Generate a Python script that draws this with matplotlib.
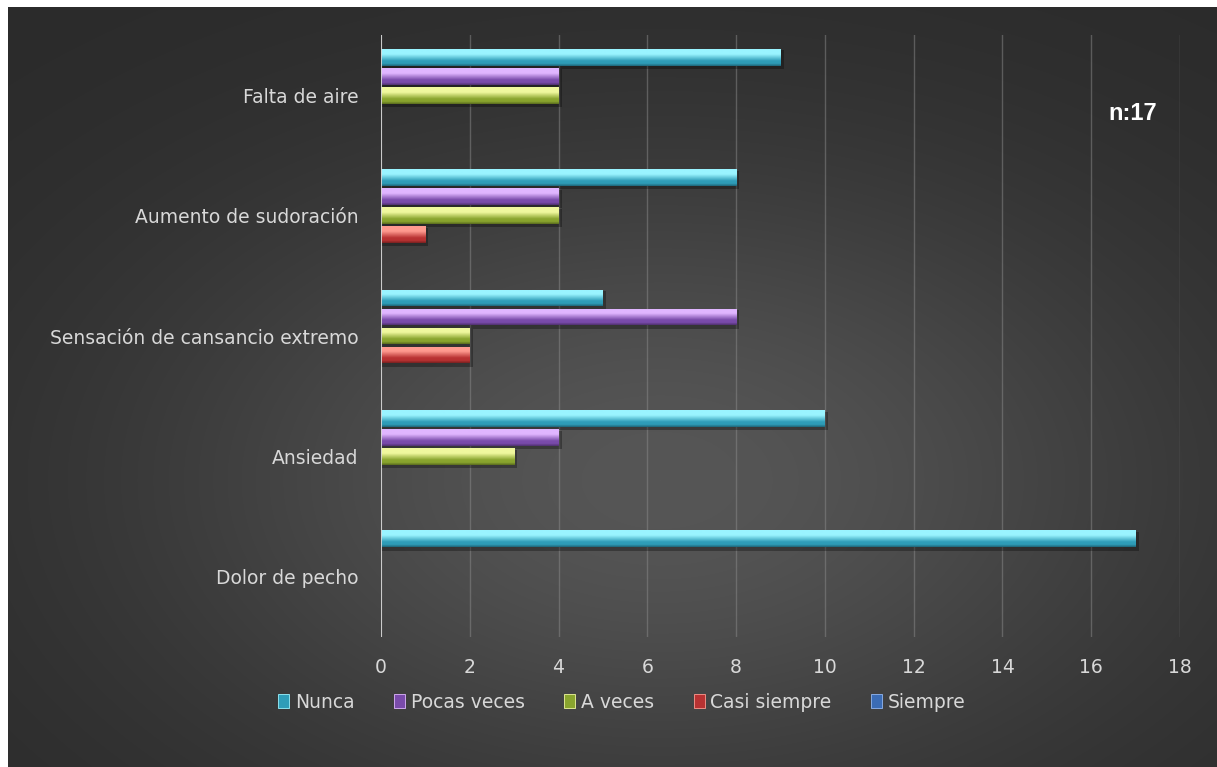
import numpy as np
import matplotlib
matplotlib.use("Agg")
import matplotlib.pyplot as plt
from matplotlib.colors import to_rgb
from matplotlib.patches import Patch, Rectangle

# ---- data -------------------------------------------------------------
categories = ["Dolor de pecho", "Ansiedad", "Sensación de cansancio extremo",
              "Aumento de sudoración", "Falta de aire"]
series = ["Nunca", "Pocas veces", "A veces", "Casi siempre", "Siempre"]
nunca = [17, 10, 5, 8, 9]
pocas_veces = [0, 4, 8, 4, 4]
a_veces = [0, 3, 2, 4, 4]
casi_siempre = [0, 0, 2, 1, 0]
siempre = [0, 0, 0, 0, 0]
x_ticks = [0, 2, 4, 6, 8, 10, 12, 14, 16, 18]
sample_note = "n:17"

values = [nunca, pocas_veces, a_veces, casi_siempre, siempre]

# light (top) / dark (bottom) shade for each series
shades = [("#9af4ff", "#2f9db8"),
          ("#e0b6ff", "#7a4bab"),
          ("#f0f89e", "#8aa52e"),
          ("#ff9a8f", "#b83232"),
          ("#93b8f2", "#3b6cb5")]

W, H, DPI = 1217, 767, 100
fig = plt.figure(figsize=(W / DPI, H / DPI), dpi=DPI, facecolor="white")

# ---- dark radial backdrop (white strip kept on the left and top) -------
bg_left, bg_top = 8, 7
bw, bh = W - bg_left, H - bg_top
xx, yy = np.meshgrid(np.arange(bw) + bg_left, np.arange(bh) + bg_top)
g = 42 + 44 * np.exp(-((xx - 660) / 520.0) ** 2 - ((yy - 480) / 320.0) ** 2)
img = np.dstack([g, g, g]) / 255.0
fig.figimage(img, xo=bg_left, yo=0, origin="upper", zorder=-10)

# ---- main plot ---------------------------------------------------------
x0, x1 = 381, 1180
y0, y1 = 35, 637
ax = fig.add_axes([x0 / W, 1 - y1 / H, (x1 - x0) / W, (y1 - y0) / H])
ax.set_facecolor("none")
ax.patch.set_visible(False)

n_series = len(series)
step = 0.158
bar_h = 0.14
ypos = np.arange(len(categories))


def vertical_gradient(light, dark, n=64):
    l = np.array(to_rgb(light))
    d = np.array(to_rgb(dark))
    t = np.linspace(0, 1, n)[:, None]
    # bright band on the upper part, falling to the darker tone below
    w = np.clip((t - 0.3) / 0.4, 0, 1)
    col = l * (1 - w) + d * w
    edge = np.clip((t - 0.85) / 0.15, 0, 1)[:, 0]
    col = col * (1 - 0.35 * edge[:, None])
    return col[:, None, :]


for i, (name, vals) in enumerate(zip(series, values)):
    offs = ypos + (n_series // 2 - i) * step
    bars = ax.barh(offs, vals, height=bar_h, color=shades[i][1],
                   edgecolor="none", zorder=3, label=name)
    grad = vertical_gradient(*shades[i])
    for p in bars.patches:
        w = p.get_width()
        if w <= 0:
            continue
        yb, hh = p.get_y(), p.get_height()
        shadow = Rectangle((0, yb - hh * 0.2), w + 0.07, hh * 1.1,
                           facecolor="black", alpha=0.3, edgecolor="none",
                           zorder=2)
        ax.add_patch(shadow)
        im = ax.imshow(grad, extent=(0, w, yb, yb + hh), origin="upper",
                       aspect="auto", zorder=4, interpolation="bilinear")
        im.set_clip_path(p)

ax.set_xlim(0, 18)
ax.set_ylim(-0.5, len(categories) - 0.5)
ax.set_xticks(x_ticks)
ax.set_xticklabels([str(t) for t in x_ticks])
ax.set_yticks(ypos)
ax.set_yticklabels(categories)

ax.grid(axis="x", color="#8a8a8a", linewidth=1.0, alpha=0.5, zorder=1)
ax.axvline(0, color="#d6d6d6", linewidth=1.3, zorder=5)
for s in ax.spines.values():
    s.set_visible(False)
ax.tick_params(axis="both", length=0, colors="#d8d8d8", labelsize=13.5)
ax.tick_params(axis="y", pad=16)
ax.tick_params(axis="x", pad=15)

# ---- legend -----------------------------------------------------------
handles = [Patch(facecolor=shades[i][1], edgecolor=shades[i][0], linewidth=0.6,
                 label=series[i]) for i in range(n_series)]
leg = fig.legend(handles=handles, loc="center", bbox_to_anchor=(0.511, 1 - 702 / H),
                 ncol=n_series, frameon=False, fontsize=13.5,
                 handlelength=0.6, handleheight=0.8, handletextpad=0.3,
                 columnspacing=2.1, labelcolor="#d8d8d8")

fig.text(1133 / W, 1 - 113 / H, sample_note, color="white", fontsize=17,
         fontweight="bold", family="Liberation Sans", ha="center", va="center")

fig.savefig("out.png", dpi=DPI, facecolor="white")
